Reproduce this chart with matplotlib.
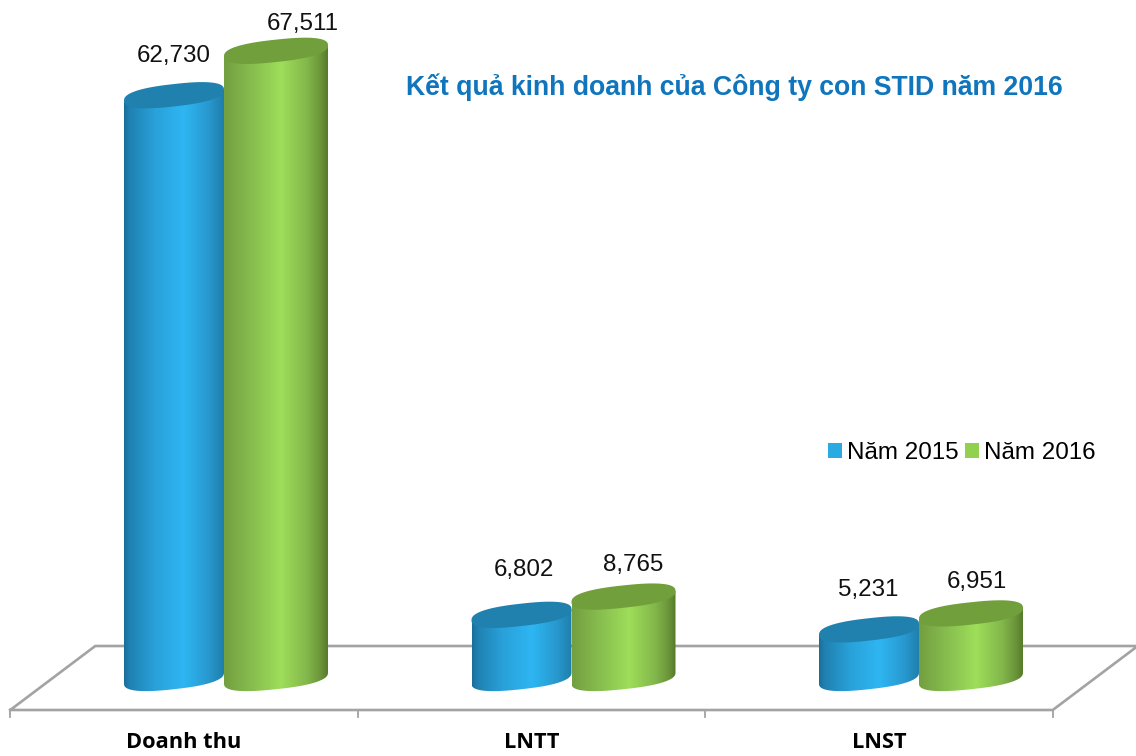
import numpy as np
from matplotlib import pyplot as plt
from matplotlib.colors import LinearSegmentedColormap
from matplotlib.patches import Patch, Polygon

categories = ['Doanh thu', 'LNTT', 'LNST']
nam_2015 = [62730, 6802, 5231]
nam_2016 = [67511, 8765, 6951]
series_names = ['Năm 2015', 'Năm 2016']
title = 'Kết quả kinh doanh của Công ty con STID năm 2016'

plt.rcParams['font.family'] = ['Liberation Sans', 'DejaVu Sans']

W, H = 1136, 756
# the picture is a fake 3d one so work out the scale from the pixels
cat_px = 347.5
cat0_px = 184
val_px = 0.00929
base_px = 678

fig = plt.figure(figsize=(W / 100, H / 100), dpi=100)
ax = fig.add_axes([0, 0, 1, 1])
xlim = ((0 - cat0_px) / cat_px, (W - cat0_px) / cat_px)
ylim = ((base_px - H) / val_px, base_px / val_px)


def dx(p):
    return p / cat_px


def dy(p):
    return p / val_px


def row(y_px):
    return (base_px - y_px) / val_px


def rounder(c):
    # makes the ellipse a bit fuller, a plain one looks like a leaf with the tilt
    return np.sign(c) * np.abs(c) ** 0.8


blue_cmap = LinearSegmentedColormap.from_list('b', [
    (0, '#1A6E98'), (0.05, '#1F80B0'), (0.3, '#29A0D8'), (0.6, '#2EB6F3'),
    (0.85, '#2898CE'), (1, '#1F7EAB')])
green_cmap = LinearSegmentedColormap.from_list('g', [
    (0, '#729F40'), (0.25, '#86BB4E'), (0.55, '#9EDE5A'), (0.8, '#83B74B'),
    (0.93, '#6C953A'), (1, '#557A2B')])
top_colors = ['#2081AE', '#719F3C']
legend_colors = ['#29ABE2', '#92D050']
offsets = [(-60, 40), (40, 144)]  # px from the category centre
tilt = dy(5.5)
minor = dy(11.2)
grad = np.linspace(0, 1, 256).reshape(1, -1)


def cylinder(pos, value, left_px, right_px, cmap, top_color, z):
    x0 = pos + dx(left_px)
    x1 = pos + dx(right_px)
    cx = (x0 + x1) / 2
    a = (x1 - x0) / 2
    t = np.linspace(np.pi, 2 * np.pi, 60)
    lower_x = cx + a * rounder(np.cos(t))
    lower_y = minor * rounder(np.sin(t)) + tilt * rounder(np.cos(t))
    xs = np.concatenate([[x0], lower_x, [x1]])
    ys = np.concatenate([[value - tilt], lower_y, [value + tilt]])
    body = Polygon(np.column_stack([xs, ys]), closed=True, fc='none', ec='none', zorder=z)
    ax.add_patch(body)
    im = ax.imshow(grad, cmap=cmap, aspect='auto', extent=(x0, x1, -dy(20), value + dy(20)),
                   zorder=z, interpolation='bilinear')
    im.set_clip_path(body)
    # top of the cylinder
    t = np.linspace(0, 2 * np.pi, 120)
    top_x = cx + a * rounder(np.cos(t))
    top_y = value + minor * rounder(np.sin(t)) + tilt * rounder(np.cos(t))
    ax.fill(top_x, top_y, color=top_color, lw=0, zorder=z + 0.5)


# floor of the chart
grey = '#A3A3A3'
left, right = -0.5, 2.5
front = row(710)
back = row(646)
skew = dx(85)
ax.plot([left, left + skew, right + skew, right, left], [front, back, back, front, front],
        color=grey, lw=1.9, zorder=1, solid_joinstyle='miter')
for t in np.arange(left, right + 1):
    ax.plot([t, t], [front, row(717)], color=grey, lw=1.3, zorder=1)

for i in range(len(categories)):
    cylinder(i, nam_2015[i], offsets[0][0], offsets[0][1], blue_cmap, top_colors[0], 2 + i)
    cylinder(i, nam_2016[i], offsets[1][0], offsets[1][1], green_cmap, top_colors[1], 2.6 + i)
    ax.text(i, row(743), categories[i], ha='center', va='center', fontsize=15.7,
            fontweight='bold', family='Open Sans', color='black')

# label positions are not regular in the original, px from the category and the bar top
label_dx = [[-10, -8, -11], [119, 102, 98]]
label_dy = [[39, 45, 39], [27, 32, 31]]
for s, vals in enumerate([nam_2015, nam_2016]):
    for i, v in enumerate(vals):
        ax.text(i + dx(label_dx[s][i]), v + dy(label_dy[s][i]), f'{v:,}', ha='center', va='center',
                fontsize=17.4, color='#111111', zorder=10)

ax.text(dx(734 - cat0_px), row(87), title, ha='center', va='center', fontsize=19.15,
        fontweight='bold', color='#0F75BD', zorder=10)

handles = [Patch(fc=c, ec='none', label=n) for c, n in zip(legend_colors, series_names)]
ax.legend(handles=handles, loc='center left', bbox_to_anchor=(828 / W, (H - 453) / H),
          ncols=2, frameon=False, fontsize=17.4, borderpad=0, borderaxespad=0,
          handlelength=0.58, handleheight=0.58, handletextpad=0.2, columnspacing=0.28)

ax.set_xlim(xlim)
ax.set_ylim(ylim)
ax.axis('off')
fig.savefig('out.png', dpi=100, facecolor='white')
